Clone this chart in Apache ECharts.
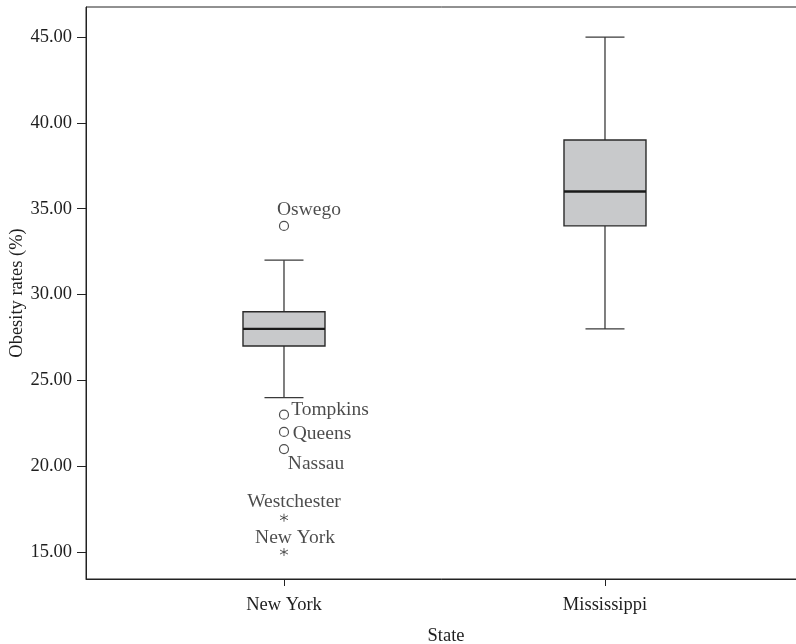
<!DOCTYPE html>
<html>
<head>
<meta charset="utf-8">
<script src="https://cdn.jsdelivr.net/npm/echarts@6/dist/echarts.min.js"></script>
<style>html,body{margin:0;padding:0;background:#fff;}#c{width:796px;height:644px;}</style>
</head>
<body>
<div id="c"></div>
<script>
// ---- data ----
const categories = ['New York', 'Mississippi'];
const categoryPositions = [1, 2];
// [lower whisker, Q1, median, Q3, upper whisker]
const boxNY = [24, 27, 28, 29, 32];
const boxMS = [28, 34, 36, 39, 45];
// mild outliers (circles), all in New York
const outlierNames = ['Oswego', 'Tompkins', 'Queens', 'Nassau'];
const outlierValues = [34, 23, 22, 21];
// extreme outliers (asterisks), all in New York
const extremeNames = ['Westchester', 'New York'];
const extremeValues = [17, 15];
const yTickValues = [15, 20, 25, 30, 35, 40, 45];

// ---- styling / placement (not data) ----
const labelOffsets = {
  'Oswego': [25, -16],
  'Tompkins': [46, -5],
  'Queens': [38, 2],
  'Nassau': [32, 15],
  'Westchester': [10, -16],
  'New York': [11, -14]
};
const FONT = 'Liberation Serif';
const TXT = '#1e1e1e';
const yMin = 13.43, yMax = 46.75;
const xMin = 0.3832, xMax = 2.6262;

const boxData = [boxNY, boxMS].map((b, i) => [categoryPositions[i]].concat(b));
const outlierData = outlierNames.map((n, i) => ({name: n, value: [categoryPositions[0], outlierValues[i]]}));
const extremeData = extremeNames.map((n, i) => ({name: n, value: [categoryPositions[0], extremeValues[i]]}));

function labelFor(name) {
  return {show: true, position: 'inside', offset: labelOffsets[name], formatter: '{b}',
          fontFamily: FONT, fontSize: 19.5, color: TXT};
}

const chart = echarts.init(document.getElementById('c'));
chart.setOption({
  animation: false,
  grid: {left: 86, top: 7, right: -10, bottom: 65, show: true, borderColor: '#222', borderWidth: 1,
         backgroundColor: 'transparent', containLabel: false, outerBoundsMode: 'none'},
  xAxis: {
    type: 'value', min: xMin, max: xMax,
    name: 'State', nameLocation: 'middle', nameGap: 48, nameMoveOverlap: false,
    nameTextStyle: {fontFamily: FONT, fontSize: 18.5, color: TXT},
    axisLine: {show: true, lineStyle: {color: '#222'}},
    axisTick: {show: true, length: 7, customValues: categoryPositions, lineStyle: {color: '#222'}},
    axisLabel: {fontFamily: FONT, fontSize: 18.5, color: TXT, margin: 17, customValues: categoryPositions,
                formatter: v => categories[categoryPositions.indexOf(v)]},
    splitLine: {show: false}
  },
  yAxis: {
    type: 'value', min: yMin, max: yMax,
    name: 'Obesity rates (%)', nameLocation: 'middle', nameGap: 59, nameMoveOverlap: false,
    nameTextStyle: {fontFamily: FONT, fontSize: 18.5, color: TXT},
    axisLine: {show: true, lineStyle: {color: '#222'}},
    axisTick: {show: true, length: 9, customValues: yTickValues, lineStyle: {color: '#222'}},
    axisLabel: {fontFamily: FONT, fontSize: 18.5, color: TXT, margin: 14, customValues: yTickValues,
                formatter: v => v.toFixed(2)},
    splitLine: {show: false}
  },
  series: [
    {
      type: 'custom',
      data: boxData,
      encode: {x: 0, y: [1, 2, 3, 4, 5]},
      renderItem: function (params, api) {
        const xv = api.value(0);
        const p = [1, 2, 3, 4, 5].map(k => api.coord([xv, api.value(k)]));
        const cx = p[0][0];
        const bh = 41, ch = 19.5;
        const yLo = p[0][1], yQ1 = p[1][1], yMed = p[2][1], yQ3 = p[3][1], yHi = p[4][1];
        const ls = {stroke: '#3a3a3a', lineWidth: 1.3};
        return {type: 'group', children: [
          {type: 'line', shape: {x1: cx, y1: yHi, x2: cx, y2: yQ3}, style: ls},
          {type: 'line', shape: {x1: cx, y1: yQ1, x2: cx, y2: yLo}, style: ls},
          {type: 'line', shape: {x1: cx - ch, y1: yHi, x2: cx + ch, y2: yHi}, style: ls},
          {type: 'line', shape: {x1: cx - ch, y1: yLo, x2: cx + ch, y2: yLo}, style: ls},
          {type: 'rect', shape: {x: cx - bh, y: yQ3, width: 2 * bh, height: yQ1 - yQ3},
           style: {fill: '#c8c9cb', stroke: '#2a2a2a', lineWidth: 1.4}},
          {type: 'line', shape: {x1: cx - bh, y1: yMed, x2: cx + bh, y2: yMed},
           style: {stroke: '#1a1a1a', lineWidth: 2.4}}
        ]};
      }
    },
    {
      type: 'scatter',
      symbol: 'circle', symbolSize: 9,
      itemStyle: {color: '#fff', borderColor: '#222', borderWidth: 1.2},
      data: outlierData.map(d => Object.assign({}, d, {label: labelFor(d.name)}))
    },
    {
      type: 'scatter',
      symbol: 'path://M5,0L5,10M0.67,2.5L9.33,7.5M0.67,7.5L9.33,2.5', symbolSize: 8,
      itemStyle: {color: 'none', borderColor: '#333', borderWidth: 1},
      data: extremeData.map(d => Object.assign({}, d, {label: labelFor(d.name)}))
    }
  ]
});
</script>
</body>
</html>
